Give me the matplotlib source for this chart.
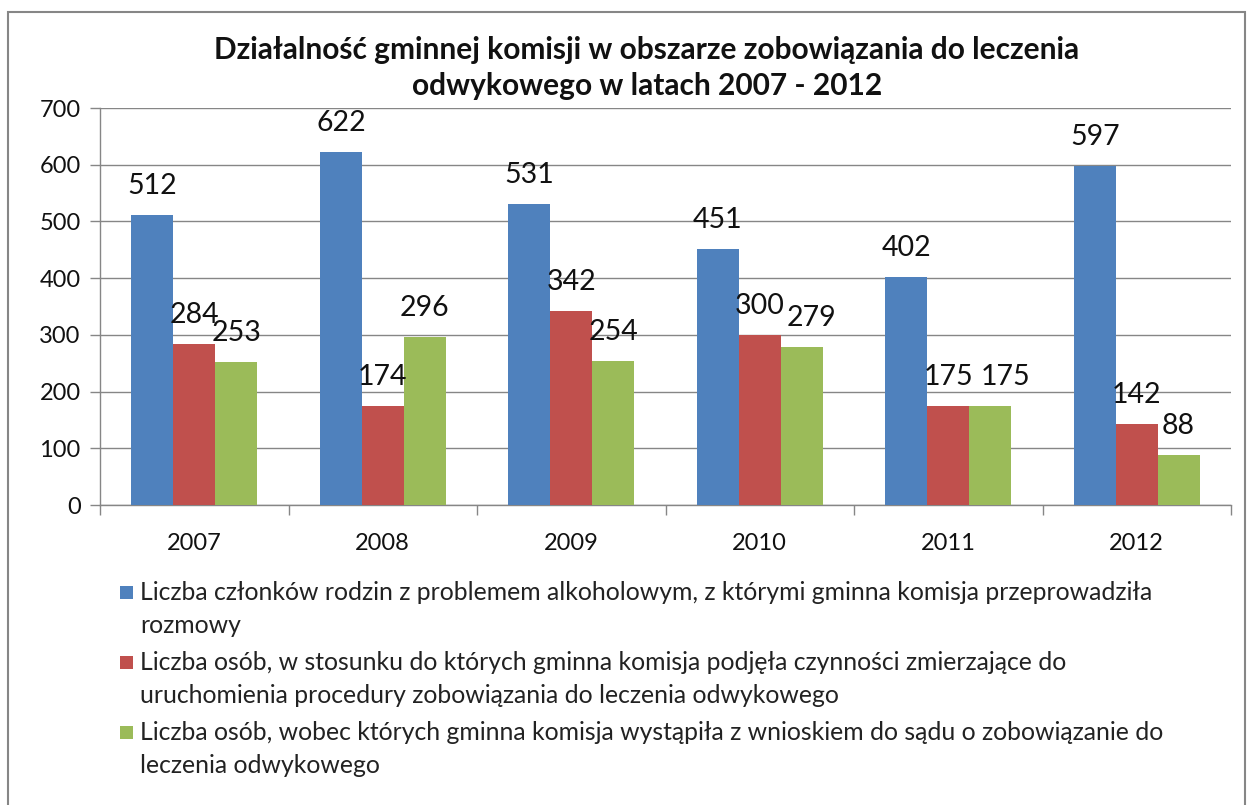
import matplotlib
matplotlib.use("Agg")
import matplotlib.pyplot as plt
from matplotlib.patches import Rectangle
import numpy as np

plt.rcParams['font.family'] = ['Lato', 'DejaVu Sans']

years = ["2007", "2008", "2009", "2010", "2011", "2012"]
rozmowy = [512, 622, 531, 451, 402, 597]
czynnosci = [284, 174, 342, 300, 175, 142]
wnioski = [253, 296, 254, 279, 175, 88]
series_labels = [
    "Liczba członków rodzin z problemem alkoholowym, z którymi gminna komisja przeprowadziła\nrozmowy",
    "Liczba osób, w stosunku do których gminna komisja podjęła czynności zmierzające do\nuruchomienia procedury zobowiązania do leczenia odwykowego",
    "Liczba osób, wobec których gminna komisja wystąpiła z wnioskiem do sądu o zobowiązanie do\nleczenia odwykowego",
]
title = "Działalność gminnej komisji w obszarze zobowiązania do leczenia\nodwykowego w latach 2007 - 2012"
colors = ["#4F81BD", "#C0504D", "#9BBB59"]
# small label nudges (points) used by the original to avoid overlapping labels
label_nudge = {(2, 3): (7, 0), (2, 4): (11, 0)}

W, H = 1250, 805
fig = plt.figure(figsize=(W / 100, H / 100), dpi=100)

# outer chart border
fig.patches.append(Rectangle((8 / W, -0.02), (1245 - 8) / W, 1 - 12 / H + 0.02,
                             transform=fig.transFigure, fill=False,
                             edgecolor="#868686", linewidth=1.5))

left, right, top, bottom = 100, 1231, 108, 505
ax = fig.add_axes([left / W, 1 - bottom / H, (right - left) / W, (bottom - top) / H])

x = np.arange(len(years))
bw = 0.222
series = [rozmowy, czynnosci, wnioski]
for i, (vals, c) in enumerate(zip(series, colors)):
    pos = x + (i - 1) * bw
    ax.bar(pos, vals, width=bw, color=c, zorder=3)
    for j, (p, v) in enumerate(zip(pos, vals)):
        dx, dy = label_nudge.get((i, j), (0, 0))
        ax.annotate(str(v), (p, v), xytext=(dx, 11.5 + dy), textcoords="offset points",
                    ha="center", va="bottom", fontsize=20.5, color="#111111", zorder=4)

ax.set_xlim(-0.5, len(years) - 0.5)
ax.set_ylim(0, 700)
ax.set_yticks(range(0, 701, 100))
ax.set_xticks(x)
ax.set_xticklabels(years)
ax.set_xticks(np.arange(-0.5, len(years), 1.0), minor=True)
ax.tick_params(axis="x", which="major", length=0, pad=20, labelsize=17, labelcolor="#111111")
ax.tick_params(axis="x", which="minor", length=7, color="#868686", width=1)
ax.tick_params(axis="y", length=7, color="#868686", width=1, labelsize=17, pad=7, labelcolor="#111111")
ax.grid(axis="y", color="#868686", linewidth=1, zorder=0)
for s in ["top", "right"]:
    ax.spines[s].set_visible(False)
for s in ["left", "bottom"]:
    ax.spines[s].set_color("#868686")
    ax.spines[s].set_linewidth(1)

fig.text(647 / W, 1 - 68 / H, title, ha="center", va="center", fontsize=21.5,
         fontweight="bold", color="#111111", linespacing=1.32)

# legend
ys = [592, 662, 732]
for lab, c, yc in zip(series_labels, colors, ys):
    fig.patches.append(Rectangle((120 / W, 1 - (yc + 7) / H), 13 / W, 13 / H,
                                 transform=fig.transFigure, facecolor=c, edgecolor="none"))
    fig.text(140 / W, 1 - (yc - 11) / H, lab, ha="left", va="top", fontsize=17.8,
             color="#222222", linespacing=1.5)

fig.savefig("out.png", dpi=100)
